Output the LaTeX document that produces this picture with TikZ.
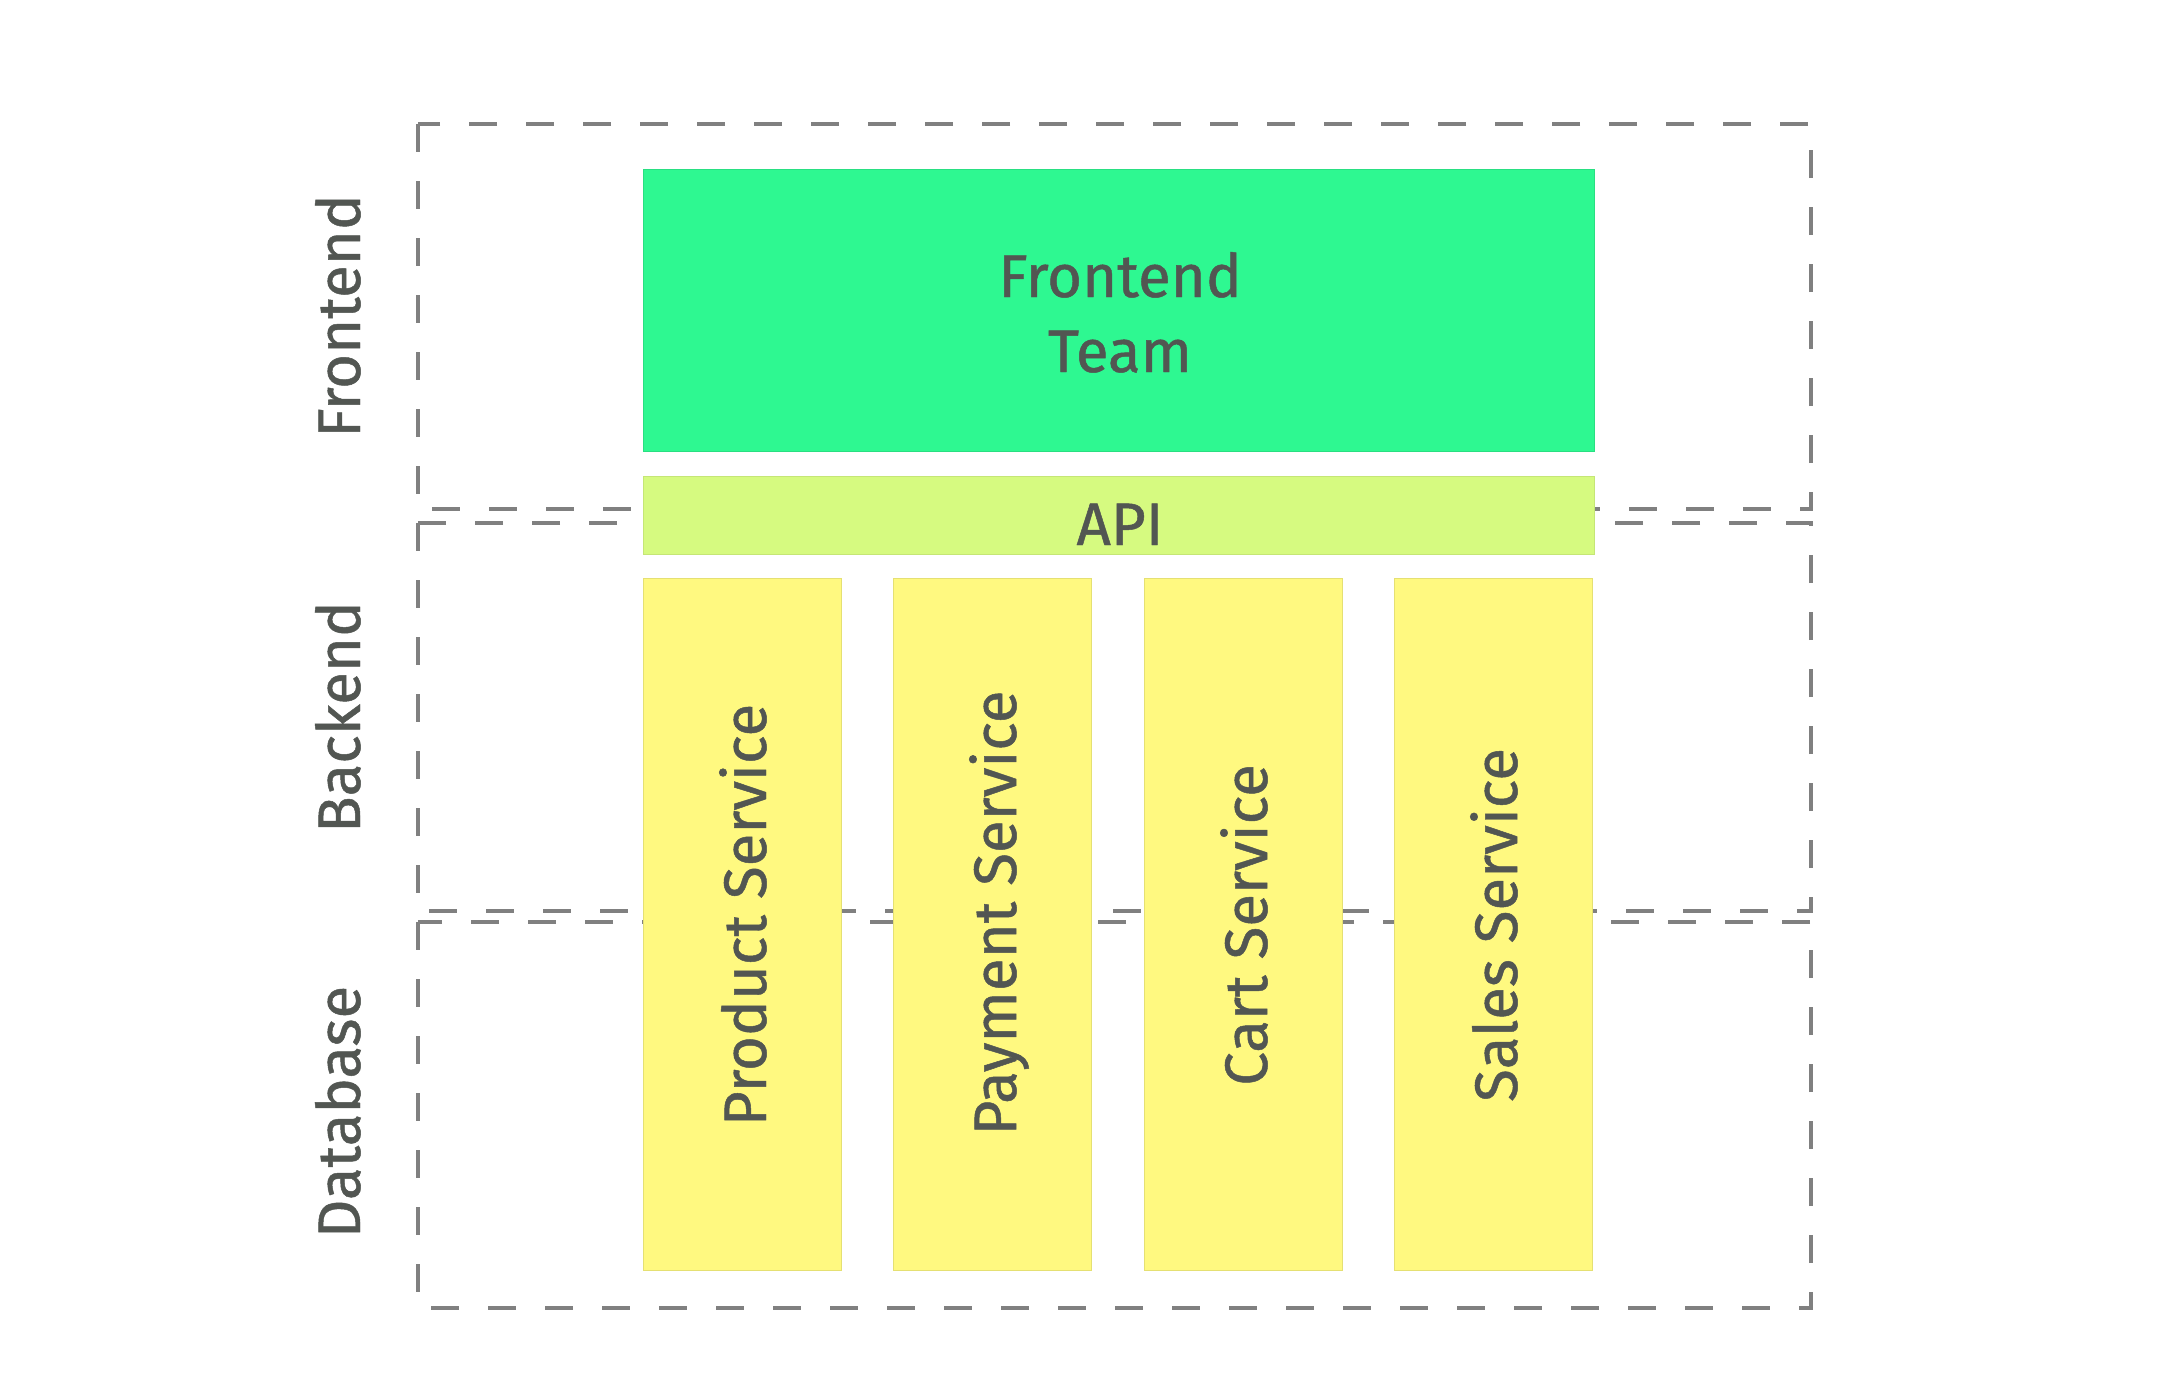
\documentclass[tikz,border=0pt]{standalone}
\usepackage{fontspec}
\setmainfont{Fira Sans}[FakeBold=0.8]
\definecolor{teamgreen}{RGB}{46,248,145}
\definecolor{apigreen}{RGB}{214,250,128}
\definecolor{svcyellow}{RGB}{255,249,128}
\definecolor{txtgray}{RGB}{82,86,82}
\definecolor{zonegray}{RGB}{128,128,128}
\tikzset{
  zone/.style={draw=zonegray, line width=4.5pt, dash pattern=on 28pt off 29pt},
  block/.style={inner sep=0pt, outer sep=0pt},
  teambox/.style={block, fill=teamgreen, draw=teamgreen!90!black, line width=0.6pt},
  apibox/.style={block, fill=apigreen, draw=apigreen!92!black, line width=0.6pt},
  svcbox/.style={block, fill=svcyellow, draw=svcyellow!90!black, line width=0.6pt, minimum width=198pt, minimum height=692pt},
  lbl/.style={inner sep=0pt, text=txtgray, font=\fontsize{60}{75}\selectfont, anchor=base},
  vlbl/.style={lbl, rotate=90}
}
\begin{document}
\begin{tikzpicture}[x=1pt,y=-1pt]
\useasboundingbox (0,0) rectangle (2158,1400);
\fill[white] (0,0) rectangle (2158,1400);
% zones
\draw[zone] (418,124) rectangle (1811,509);
\draw[zone] (418,523) rectangle (1811,911);
\draw[zone] (418,922) rectangle (1811,1308);
% zone labels
\node[vlbl] (lfront) at (360,316) {Frontend};
\node[vlbl] (lback) at (360,717) {Backend};
\node[vlbl] (ldb) at (360,1112) {Database};
% boxes
\node[teambox, minimum width=951pt, minimum height=282pt] (team) at (1118.5,310) {};
\node[lbl] (team1) at (1120,297) {Frontend};
\node[lbl] (team2) at (1120,372) {Team};
\node[apibox, minimum width=951pt, minimum height=78pt] (api) at (1118.5,515.5) {};
\node[lbl] (apit) at (1120,545) {API};
\node[svcbox] (s1) at (742,924) {};
\node[svcbox] (s2) at (992,924) {};
\node[svcbox] (s3) at (1243,924) {};
\node[svcbox] (s4) at (1493.5,924) {};
\node[vlbl] (t1) at (766,915) {Product Service};
\node[vlbl] (t2) at (1016,913) {Payment Service};
\node[vlbl] (t3) at (1267,925) {Cart Service};
\node[vlbl] (t4) at (1517,925) {Sales Service};
\end{tikzpicture}
\end{document}
